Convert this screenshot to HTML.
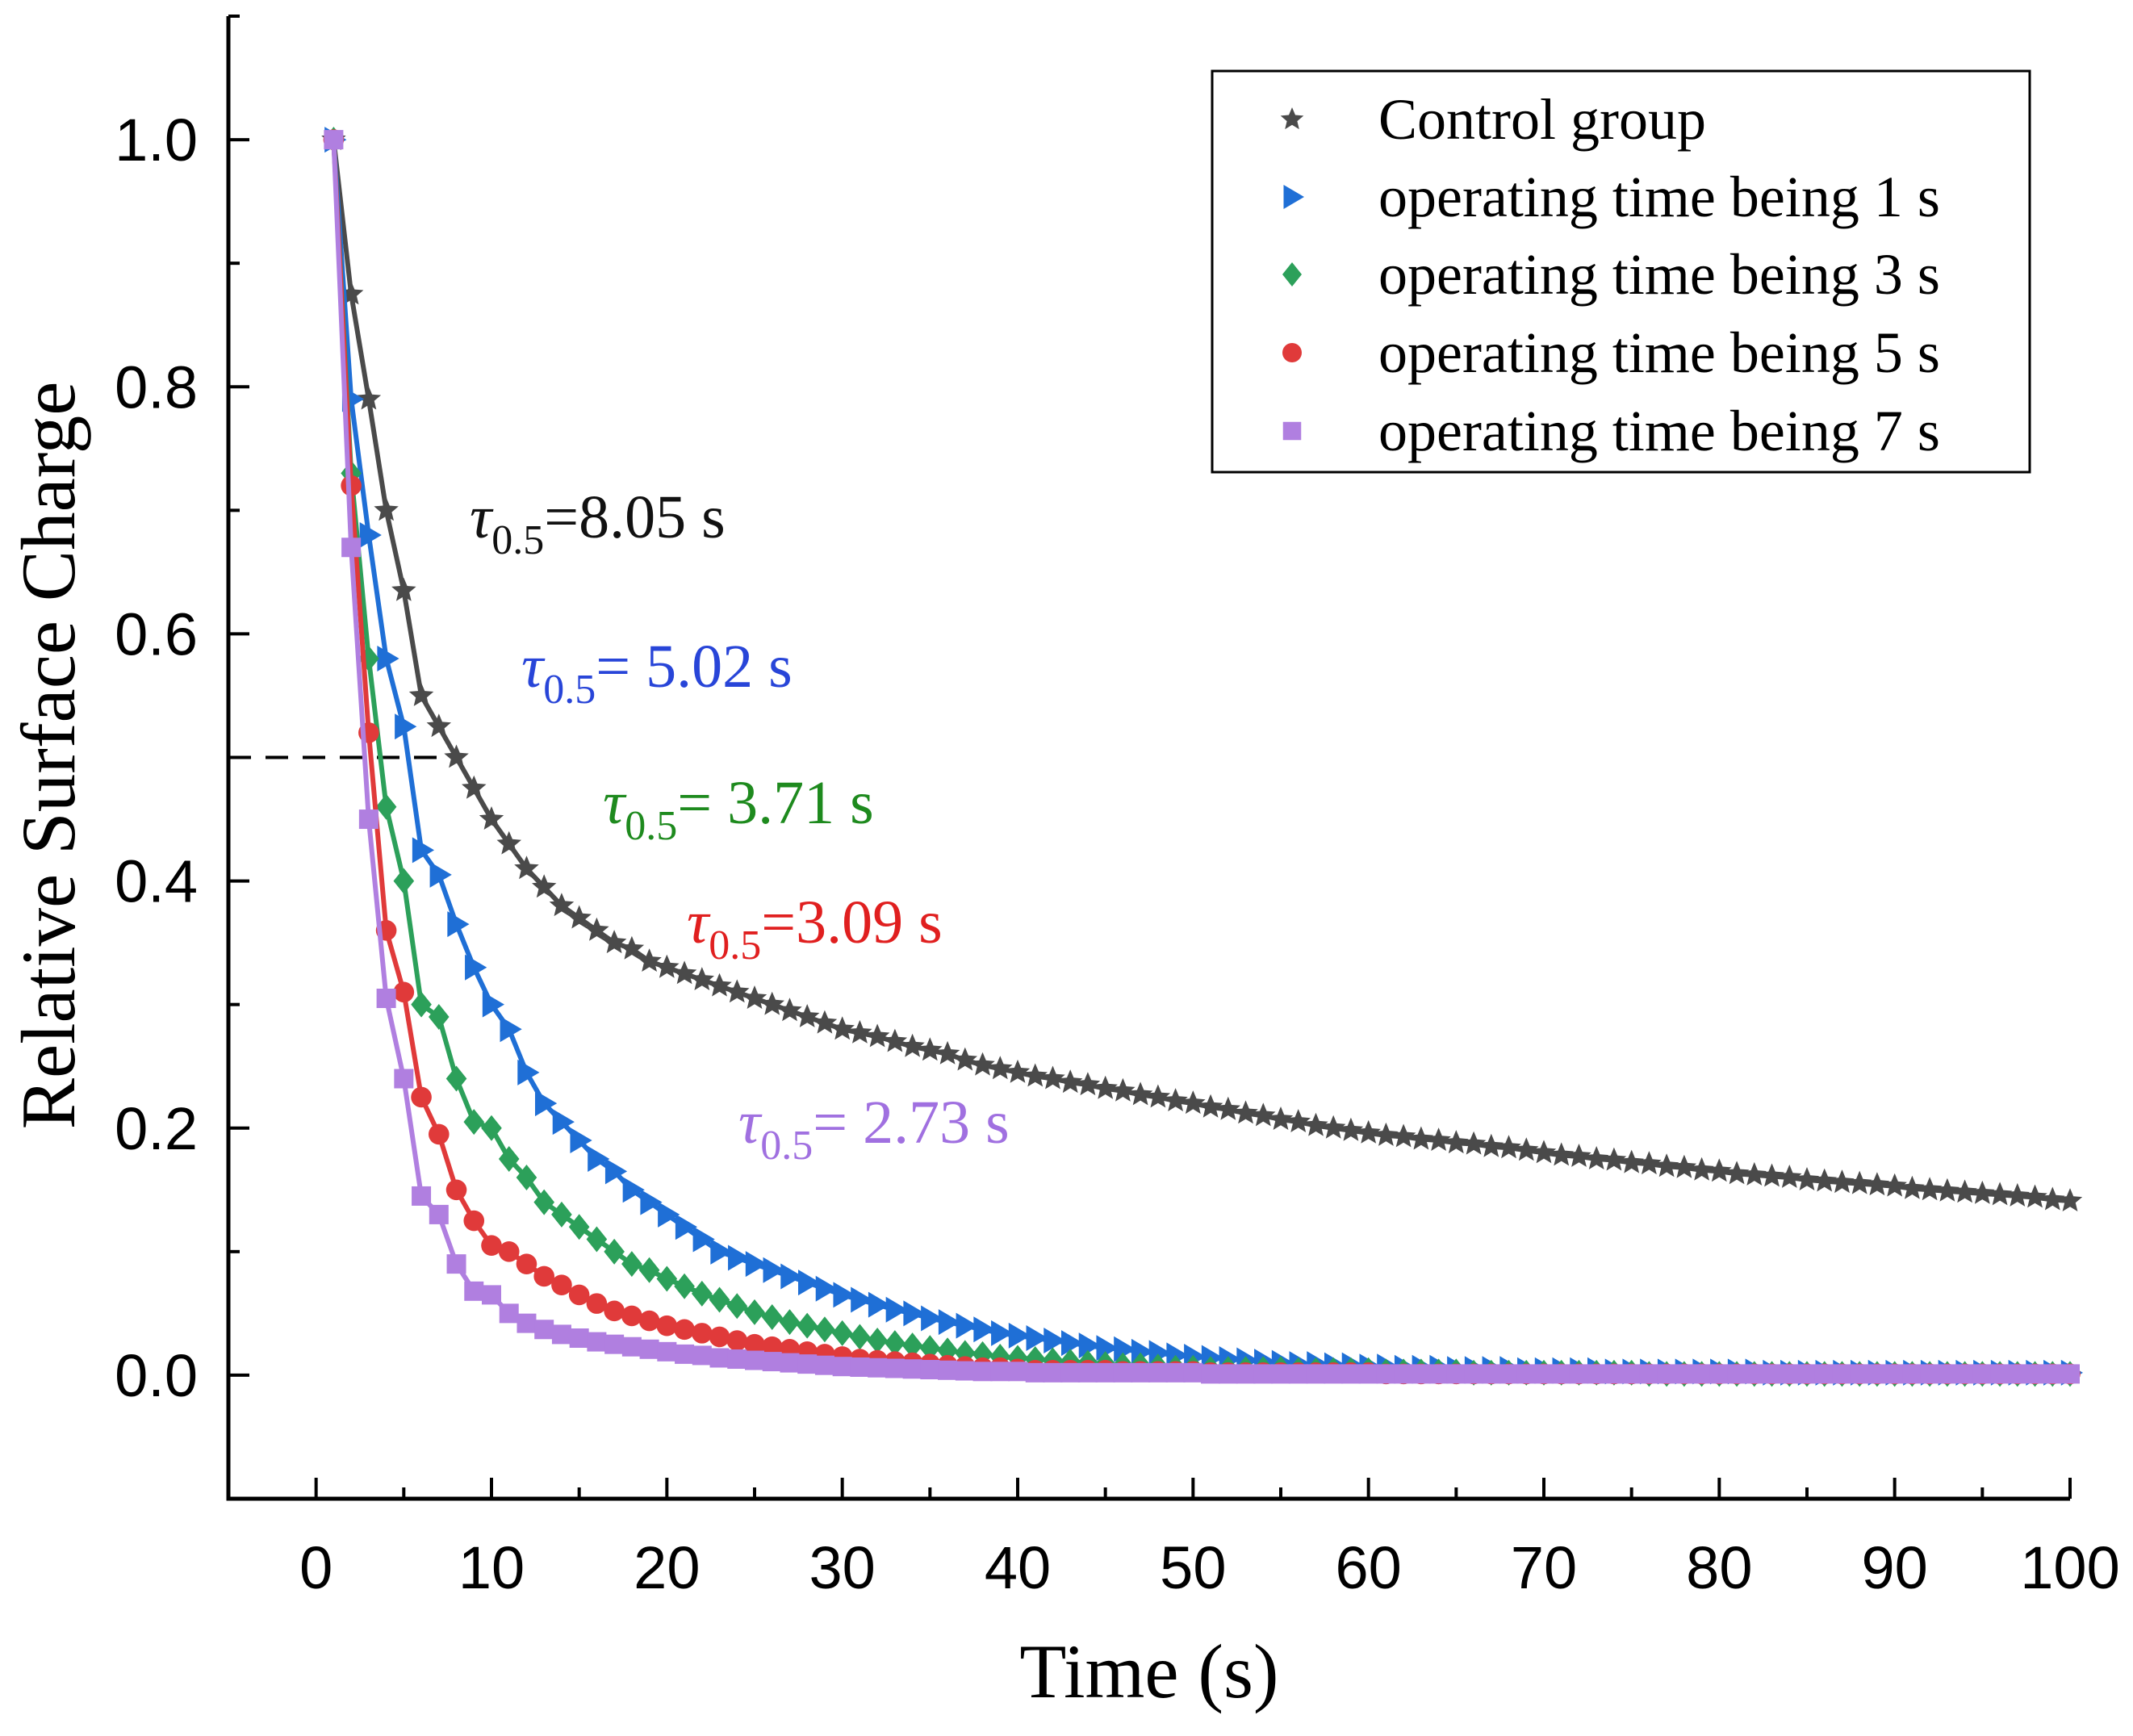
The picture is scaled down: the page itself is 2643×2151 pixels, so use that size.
<!DOCTYPE html>
<html><head><meta charset="utf-8"><style>
html,body{margin:0;padding:0;background:#fff}
svg{display:block}
</style></head><body>
<svg id="chart" width="2643" height="2151" viewBox="0 0 2643 2151" xmlns="http://www.w3.org/2000/svg">
<g id="plot"></g>
<g id="axes"></g>
<text x="0" y="0" transform="translate(92,936) rotate(-90)" text-anchor="middle" font-family="Liberation Serif, serif" font-size="95">Relative Surface Charge</text>
<text x="1424" y="2103" text-anchor="middle" font-family="Liberation Serif, serif" font-size="95">Time (s)</text>
<g font-family="Liberation Serif, serif" font-size="76">
<text x="582" y="666" fill="#111"><tspan font-style="italic">τ</tspan><tspan font-size="52" dy="20">0.5</tspan><tspan dy="-20">=8.05 s</tspan></text>
<text x="646" y="851" fill="#2845d8"><tspan font-style="italic">τ</tspan><tspan font-size="52" dy="20">0.5</tspan><tspan dy="-20">= 5.02 s</tspan></text>
<text x="747" y="1020" fill="#1e8a1e"><tspan font-style="italic">τ</tspan><tspan font-size="52" dy="20">0.5</tspan><tspan dy="-20">= 3.71 s</tspan></text>
<text x="851" y="1168" fill="#e01f1f"><tspan font-style="italic">τ</tspan><tspan font-size="52" dy="20">0.5</tspan><tspan dy="-20">=3.09 s</tspan></text>
<text x="915" y="1416" fill="#a070e0"><tspan font-style="italic">τ</tspan><tspan font-size="52" dy="20">0.5</tspan><tspan dy="-20">= 2.73 s</tspan></text>
</g>
<g id="legend"></g>
</svg>
<script>
const times = [1,2,3,4,5,6,7,8,9,10,11,12,13,14,15,16,17,18,19,20,21,22,23,24,25,26,27,28,29,30,31,32,33,34,35,36,37,38,39,40,41,42,43,44,45,46,47,48,49,50,51,52,53,54,55,56,57,58,59,60,61,62,63,64,65,66,67,68,69,70,71,72,73,74,75,76,77,78,79,80,81,82,83,84,85,86,87,88,89,90,91,92,93,94,95,96,97,98,99,100];
const controlVals = [1,.875,.79,.70,.635,.55,.525,.50,.475,.45,.43,.41,.395,.38,.37,.36,.35,.345,.335,.33,
.325,.32,.315,.31,.305,.30,.295,.29,.285,.28,.277,.274,.27,.266,.263,.26,.255,.251,.248,.245,
.242,.24,.237,.235,.232,.23,.227,.225,.222,.22,.217,.215,.212,.21,.207,.205,.202,.20,.198,.196,
.194,.193,.191,.19,.188,.187,.185,.184,.182,.18,.178,.177,.175,.174,.172,.171,.169,.168,.166,.165,
.163,.162,.161,.16,.158,.157,.156,.155,.154,.153,.151,.15,.149,.148,.147,.146,.145,.144,.142,.141];
const s1Vals = [1,.79,.68,.58,.525,.425,.405,.365,.33,.30,.28,.245,.22,.205,.19,.175,.165,.15,.14,.13,
.12,.11,.10,.095,.09,.085,.08,.075,.07,.065,.061,.057,.053,.05,.046,.043,.04,.037,.034,.032,
.03,.028,.026,.024,.022,.021,.019,.018,.016,.015,.014,.013,.012,.011,.01,.009,.009,.008,.008,.007,
.007,.006,.006,.006,.005,.005,.005,.005,.004,.004,.004,.004,.004,.003,.003,.003,.003,.003,.003,.003,
.003,.003,.002,.002,.002,.002,.002,.002,.002,.002,.002,.002,.002,.002,.002,.002,.002,.002,.002,.002];
const s3Vals = [1,.73,.58,.46,.40,.30,.29,.24,.205,.20,.175,.16,.14,.13,.12,.11,.10,.09,.085,.078,
.072,.066,.061,.056,.051,.047,.043,.04,.037,.034,.031,.028,.026,.024,.022,.02,.018,.017,.015,.014,
.013,.012,.011,.01,.009,.008,.008,.007,.006,.006,.005,.005,.005,.005,.005,.004,.004,.004,.004,.004,
.003,.003,.003,.003,.003,.002,.002,.002,.002,.002,.002,.002,.002,.002,.002,.001,.001,.001,.001,.001,
.001,.001,.001,.001,.001,.001,.001,.001,.001,.001,.001,.001,.001,.001,.001,.001,.001,.001,.001,.001];
const s5Vals = [1,.72,.52,.36,.31,.225,.195,.15,.125,.105,.10,.09,.08,.073,.065,.058,.052,.048,.044,.04,
.037,.034,.031,.028,.025,.023,.021,.019,.017,.015,.013,.012,.011,.01,.009,.008,.007,.006,.006,.005,
.004,.004,.004,.004,.004,.003,.003,.003,.003,.003,.002,.002,.002,.002,.002,.002,.002,.002,.002,.002,
.001,.001,.001,.001,.001,.001,.001,.001,.001,.001,.001,.001,.001,.001,.001,.001,.001,.001,.001,.001,
.001,.001,.001,.001,.001,.001,.001,.001,.001,.001,.001,.001,.001,.001,.001,.001,.001,.001,.001,.001];
const s7Vals = [1,.67,.45,.305,.24,.145,.13,.09,.068,.065,.05,.042,.037,.033,.03,.027,.025,.023,.021,.019,
.017,.016,.014,.013,.012,.011,.01,.009,.008,.007,.0065,.006,.0055,.005,.0045,.004,.0035,.003,.003,.003,
.002,.002,.002,.002,.002,.002,.002,.002,.002,.002,.001,.001,.001,.001,.001,.001,.001,.001,.001,.001,
.001,.001,.001,.001,.001,.001,.001,.001,.001,.001,.001,.001,.001,.001,.001,.001,.001,.001,.001,.001,
.001,.001,.001,.001,.001,.001,.001,.001,.001,.001,.001,.001,.001,.001,.001,.001,.001,.001,.001,.001];
const xTicks = [0,10,20,30,40,50,60,70,80,90,100];
const yTicks = [0.0,0.2,0.4,0.6,0.8,1.0];
const legendLabels = ["Control group","operating time being 1 s","operating time being 3 s","operating time being 5 s","operating time being 7 s"];

const NS="http://www.w3.org/2000/svg";
const X0=283,X1=2565,Y0=20,Y1=1857,xmin=-5,xmax=100,ymin=-0.1,ymax=1.1;
function sx(v){return X0+(v-xmin)/(xmax-xmin)*(X1-X0);}
function sy(v){return Y1-(v-ymin)/(ymax-ymin)*(Y1-Y0);}
function mk(tag,attrs,parent){const e=document.createElementNS(NS,tag);for(const k in attrs)e.setAttribute(k,attrs[k]);parent.appendChild(e);return e;}
const plot=document.getElementById('plot'),axes=document.getElementById('axes'),legend=document.getElementById('legend');

function marker(type,x,y,color,parent,r){
  let e;
  if(type==='star'){let p=[];for(let i=0;i<10;i++){const a=-Math.PI/2+i*Math.PI/5,rr=i%2?r*0.45:r;p.push((x+rr*Math.cos(a)).toFixed(1)+','+(y+rr*Math.sin(a)).toFixed(1));}e=mk('polygon',{points:p.join(' '),fill:color},parent);}
  else if(type==='tri'){e=mk('polygon',{points:`${x-r*0.7},${y-r} ${x+r},${y} ${x-r*0.7},${y+r}`,fill:color},parent);}
  else if(type==='diamond'){e=mk('polygon',{points:`${x},${y-r} ${x+r*0.8},${y} ${x},${y+r} ${x-r*0.8},${y}`,fill:color},parent);}
  else if(type==='circle'){e=mk('circle',{cx:x,cy:y,r:r*0.8,fill:color},parent);}
  else {e=mk('rect',{x:x-r*0.75,y:y-r*0.75,width:r*1.5,height:r*1.5,fill:color},parent);}
  return e;
}
const series=[
 {vals:controlVals,color:'#4a4a4a',type:'star',name:'control'},
 {vals:s1Vals,color:'#1f6fd6',type:'tri',name:'1s'},
 {vals:s3Vals,color:'#2ca05a',type:'diamond',name:'3s'},
 {vals:s5Vals,color:'#e03a3a',type:'circle',name:'5s'},
 {vals:s7Vals,color:'#b07fe0',type:'square',name:'7s'}];

const dl=mk('line',{x1:sx(-5),x2:sx(8),y1:sy(0.5),y2:sy(0.5),stroke:'#000','stroke-width':4,'stroke-dasharray':'28,18'},plot);



series.forEach(s=>{
  const g=mk('g',{},plot);
  
  
  const pl=mk('polyline',{points:times.map((t,i)=>sx(t)+','+sy(s.vals[i])).join(' '),fill:'none',stroke:s.color,'stroke-width':6,'stroke-linejoin':'round'},g);
  
  
  times.forEach((t,i)=>{
    const m=marker(s.type,sx(t),sy(s.vals[i]),s.color,g,16);
    
    
  });
});

const ax=mk('path',{d:`M${X0},${Y0} L${X0},${Y1} L${X1},${Y1}`,fill:'none',stroke:'#000','stroke-width':5},axes);


for(let v=0;v<=100;v+=5){const maj=v%10===0;const t=mk('line',{x1:sx(v),x2:sx(v),y1:Y1,y2:Y1-(maj?26:14),stroke:'#000','stroke-width':4},axes);
 
 }
for(let k=-1;k<=11;k++){const v=k/10;const maj=k%2===0&&k>=0;const t=mk('line',{x1:X0,x2:X0+(maj?26:14),y1:sy(v),y2:sy(v),stroke:'#000','stroke-width':4},axes);
 
 }
xTicks.forEach(v=>{const t=mk('text',{x:sx(v),y:1968,'text-anchor':'middle','font-family':'Liberation Sans, sans-serif','font-size':74},axes);t.textContent=String(v);
 
 });
yTicks.forEach(v=>{const t=mk('text',{x:245,y:sy(v)+26,'text-anchor':'end','font-family':'Liberation Sans, sans-serif','font-size':74},axes);t.textContent=v.toFixed(1);
 
 });

const lb=mk('rect',{x:1502,y:88,width:1013,height:497,fill:'#fff',stroke:'#000','stroke-width':3},legend);


const rows=[148,244,340,437,534];
series.forEach((s,i)=>{
  const m=marker(s.type,1601,rows[i],s.color,legend,15);
  
  
  const t=mk('text',{x:1708,y:rows[i]+24,'font-family':'Liberation Serif, serif','font-size':72},legend);
  t.textContent=legendLabels[i];
  
  
});
</script>
</body></html>
